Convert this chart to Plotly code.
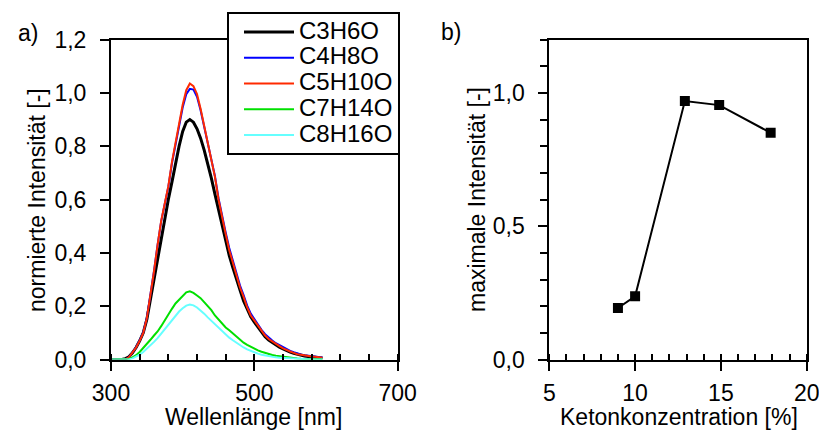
import plotly.graph_objects as go

# ---------------- data ----------------
wavelength = [300, 305, 310, 315, 320, 325, 330, 335, 340, 345,
              350, 355, 360, 365, 370, 375, 380, 385, 390, 395,
              400, 405, 410, 415, 420, 425, 430, 435, 440, 445,
              450, 455, 460, 465, 470, 475, 480, 485, 490, 495,
              500, 505, 510, 515, 520, 525, 530, 535, 540, 545,
              550, 555, 560, 565, 570, 575, 580, 585, 590, 595]

c3h6o = [0, 0, 0, 0, 0.003, 0.01, 0.025, 0.045, 0.07, 0.10,
         0.15, 0.225, 0.31, 0.39, 0.46, 0.535, 0.60, 0.665, 0.735, 0.80,
         0.855, 0.89, 0.90, 0.89, 0.865, 0.83, 0.785, 0.735, 0.68, 0.62,
         0.56, 0.50, 0.44, 0.39, 0.345, 0.30, 0.26, 0.22, 0.19, 0.16,
         0.14, 0.12, 0.10, 0.085, 0.073, 0.063, 0.054, 0.046, 0.04, 0.033,
         0.028, 0.023, 0.019, 0.016, 0.013, 0.011, 0.009, 0.008, 0.007, 0.006]

c4h8o = [0, 0, 0, 0, 0.0, 0.008, 0.025, 0.046, 0.072, 0.102,
         0.157, 0.237, 0.332, 0.43, 0.518, 0.583, 0.648, 0.735, 0.805, 0.872,
         0.945, 0.995, 1.015, 1.012, 0.985, 0.935, 0.872, 0.81, 0.747, 0.688,
         0.605, 0.537, 0.476, 0.418, 0.368, 0.318, 0.277, 0.242, 0.202, 0.172,
         0.151, 0.131, 0.111, 0.095, 0.082, 0.071, 0.061, 0.053, 0.045, 0.038,
         0.032, 0.027, 0.022, 0.019, 0.016, 0.014, 0.012, 0.01, 0.009, 0.008]

c5h10o = [0, 0, 0, 0, 0.0, 0.008, 0.025, 0.045, 0.07, 0.10,
          0.155, 0.235, 0.33, 0.43, 0.52, 0.585, 0.65, 0.74, 0.81, 0.88,
          0.955, 1.01, 1.035, 1.025, 0.995, 0.94, 0.875, 0.81, 0.745, 0.685,
          0.60, 0.53, 0.47, 0.41, 0.36, 0.31, 0.27, 0.235, 0.195, 0.165,
          0.145, 0.125, 0.105, 0.09, 0.077, 0.067, 0.057, 0.05, 0.042, 0.035,
          0.03, 0.025, 0.02, 0.018, 0.015, 0.013, 0.011, 0.01, 0.008, 0.007]

c7h14o = [0, 0, 0, 0, 0, 0.002, 0.008, 0.016, 0.028, 0.042,
          0.058, 0.074, 0.09, 0.105, 0.125, 0.148, 0.17, 0.19, 0.21, 0.225,
          0.24, 0.252, 0.256, 0.25, 0.24, 0.23, 0.215, 0.20, 0.185, 0.165,
          0.15, 0.135, 0.12, 0.11, 0.098, 0.085, 0.073, 0.063, 0.055, 0.047,
          0.04, 0.034, 0.029, 0.024, 0.02, 0.017, 0.014, 0.012, 0.01, 0.008,
          0.006, 0.005, 0.004, 0.003, 0.002, 0.002, 0.001, 0.001, 0.001, 0.001]

c8h16o = [0, 0, 0, 0, 0, 0, 0.004, 0.01, 0.018, 0.028,
          0.04, 0.052, 0.066, 0.08, 0.097, 0.115, 0.133, 0.15, 0.165, 0.18,
          0.192, 0.202, 0.206, 0.203, 0.195, 0.185, 0.172, 0.158, 0.145, 0.13,
          0.117, 0.105, 0.094, 0.082, 0.072, 0.062, 0.053, 0.045, 0.038, 0.032,
          0.026, 0.022, 0.018, 0.015, 0.012, 0.01, 0.008, 0.007, 0.006, 0.005,
          0.004, 0.003, 0.002, 0.002, 0.001, 0.001, 0, 0, 0, 0]

series_names = ["C3H6O", "C4H8O", "C5H10O", "C7H14O", "C8H16O"]
series_values = [c3h6o, c4h8o, c5h10o, c7h14o, c8h16o]
series_colors = ["#000000", "#0000ff", "#ff2a00", "#00e000", "#66ffff"]
series_widths = [3, 2, 2, 2, 2]

konzentration = [9, 10, 12.9, 14.9, 17.9]
max_intensitaet = [0.193, 0.237, 0.969, 0.954, 0.85]

# ---------------- figure ----------------
W, H = 819, 430
FONT = "Liberation Sans, Arial, sans-serif"
FS = 23

def px_x(p):
    return p / W

def px_y(p):
    return (H - p) / H

fig = go.Figure()

for name, vals, col, lw in zip(series_names, series_values, series_colors, series_widths):
    fig.add_trace(go.Scatter(x=wavelength, y=vals, mode="lines",
                             name="<span style='font-size:24px'>" + name + "</span>",
                             line=dict(color=col, width=lw),
                             xaxis="x", yaxis="y"))

fig.add_trace(go.Scatter(x=konzentration, y=max_intensitaet, mode="lines+markers",
                         line=dict(color="black", width=2),
                         marker=dict(symbol="square", size=10, color="black"),
                         showlegend=False, xaxis="x2", yaxis="y2"))

ydom = [px_y(359.5), px_y(39.5)]

common = dict(showline=True, linewidth=2, linecolor="black", mirror=True,
              showgrid=False, zeroline=False, ticks="outside", ticklen=9,
              tickwidth=2, tickcolor="black", automargin=False,
              ticklabeloverflow="allow",
              tickfont=dict(family=FONT, size=FS, color="black"))

fig.update_layout(
    width=W, height=H,
    margin=dict(l=0, r=0, t=0, b=0, autoexpand=False),
    paper_bgcolor="white", plot_bgcolor="white",
    separators=",.",
    font=dict(family=FONT, size=FS, color="black"),
    xaxis=dict(domain=[px_x(111), px_x(397.7)], range=[300, 700],
               tickvals=[300, 500, 700], ticktext=["300", "500", "700"],
               ticklabelstandoff=3,
               minor=dict(dtick=40, tick0=300, ticks="inside", ticklen=6,
                          tickwidth=2, tickcolor="black"),
               anchor="y", **common),
    yaxis=dict(domain=ydom, range=[0, 1.2], dtick=0.2, tick0=0,
               tickformat=".1f", anchor="x", ticklabelstandoff=9, **common),
    xaxis2=dict(domain=[px_x(549.3), px_x(806.7)], range=[5, 20],
                dtick=5, tick0=5, ticklabelstandoff=3,
                minor=dict(dtick=1, tick0=5, ticks="inside", ticklen=6,
                           tickwidth=2, tickcolor="black"),
                anchor="y2", **common),
    yaxis2=dict(domain=ydom, range=[0, 1.2], dtick=0.5, tick0=0,
                tickformat=".1f", anchor="x2", ticklabelstandoff=9,
                minor=dict(dtick=0.1, tick0=0, ticks="outside", ticklen=7,
                           tickwidth=2, tickcolor="black"),
                **common),
    legend=dict(x=px_x(227), y=px_y(12), xanchor="left", yanchor="top",
                bgcolor="white", bordercolor="black", borderwidth=2,
                font=dict(family=FONT, size=17.5, color="black"),
                itemwidth=50, indentation=10, tracegroupgap=0),
    showlegend=True,
)

annots = [
    dict(text="normierte Intensität [-]", x=px_x(37), y=px_y(200), textangle=-90),
    dict(text="Wellenlänge [nm]", x=px_x(253), y=px_y(417)),
    dict(text="maximale Intensität [-]", x=px_x(477), y=px_y(200), textangle=-90),
    dict(text="Ketonkonzentration [%]", x=px_x(679), y=px_y(417)),
    dict(text="a)", x=px_x(28), y=px_y(33)),
    dict(text="b)", x=px_x(451), y=px_y(32)),
]
for a in annots:
    fig.add_annotation(xref="paper", yref="paper", showarrow=False,
                       xanchor="center", yanchor="middle",
                       font=dict(family=FONT, size=FS, color="black"), **a)

fig.write_html("out.html")
